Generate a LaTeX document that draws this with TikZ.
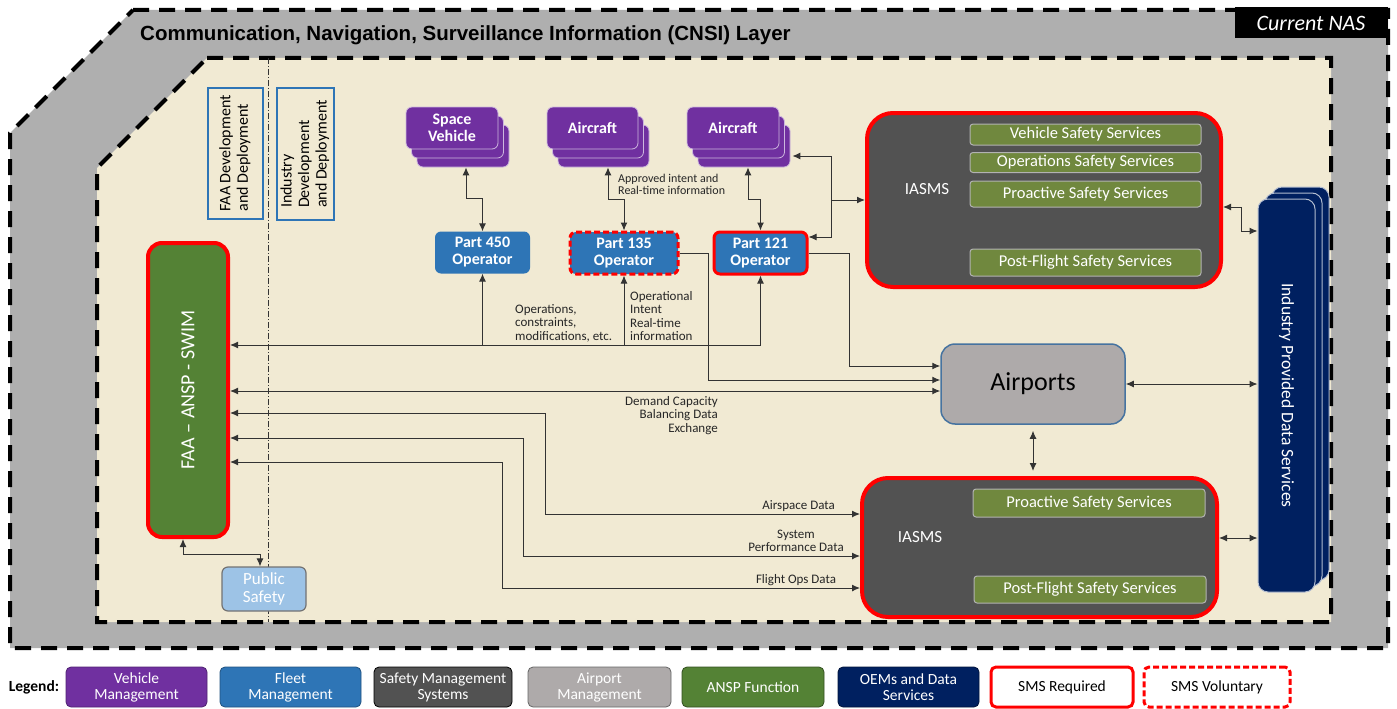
\documentclass[tikz,border=0pt]{standalone}
\usepackage{fontspec}
\setmainfont{Carlito}
\newfontfamily\arialfont{Liberation Sans}
\usetikzlibrary{arrows.meta, shadows}

\definecolor{vehpurple}{RGB}{112,48,160}
\definecolor{fleetblue}{RGB}{46,117,182}
\definecolor{smsgray}{RGB}{82,82,82}
\definecolor{airgray}{RGB}{174,170,170}
\definecolor{airborder}{RGB}{70,115,160}
\definecolor{ansgreen}{RGB}{84,130,53}
\definecolor{oemnavy}{RGB}{0,32,96}
\definecolor{svcgreen}{RGB}{112,136,62}
\definecolor{nasbeige}{RGB}{241,234,211}
\definecolor{cnsigray}{RGB}{175,175,175}
\definecolor{smsred}{RGB}{255,0,0}
\definecolor{pubblue}{RGB}{157,195,230}

\newcommand{\rotup}[1]{\rotatebox{90}{\begin{tabular}{@{}l@{}}#1\end{tabular}}}

\tikzstyle{layer} = [fill=cnsigray, draw=black, line width=4pt, dash pattern=on 16pt off 10pt]
\tikzstyle{nas} = [fill=nasbeige, draw=black, line width=4pt, dash pattern=on 16pt off 10pt]
\tikzstyle{divider} = [draw=black!80, line width=0.8pt, dash pattern=on 6pt off 2pt on 1pt off 2pt]
\tikzstyle{title} = [anchor=west, inner sep=0pt, font=\arialfont\bfseries\fontsize{20.5}{20.5}\selectfont]
\tikzstyle{tag} = [fill=black, text=white, minimum width=153pt, minimum height=31pt, inner sep=0pt, font=\itshape\fontsize{22}{22}\selectfont]
\tikzstyle{devbox} = [rectangle, draw=fleetblue, line width=2.5pt, inner sep=0pt, font=\fontsize{16}{17.5}\selectfont]
\tikzstyle{vehicle} = [rectangle, rounded corners=6pt, fill=vehpurple, draw=white!65!vehpurple, line width=0.8pt, text=white, minimum width=92pt, minimum height=42pt, inner sep=0pt, align=center, font=\bfseries\fontsize{16}{17}\selectfont, copy shadow={shadow xshift=11pt, shadow yshift=-18pt}, copy shadow={shadow xshift=5.5pt, shadow yshift=-9pt}]
\tikzstyle{operator} = [rectangle, rounded corners=6pt, fill=fleetblue, text=white, minimum height=42pt, inner sep=0pt, align=center, font=\bfseries\fontsize{16}{17}\selectfont]
\tikzstyle{smsreq} = [draw=smsred, line width=3pt]
\tikzstyle{smsvol} = [draw=smsred, line width=3pt, dash pattern=on 6pt off 3pt]
\tikzstyle{iasms} = [rectangle, rounded corners=26pt, fill=smsgray, draw=smsred, line width=4pt, inner sep=0pt]
\tikzstyle{service} = [rectangle, rounded corners=3pt, fill=svcgreen, draw=gray!60, line width=1pt, text=white, minimum width=231pt, inner sep=0pt, font=\fontsize{16.5}{16.5}\selectfont]
\tikzstyle{iasmslbl} = [text=white, inner sep=0pt, font=\fontsize{17}{17}\selectfont]
\tikzstyle{airport} = [rectangle, rounded corners=14pt, fill=airgray, draw=airborder, line width=1.5pt, minimum width=184pt, minimum height=80pt, inner sep=0pt, font=\fontsize{26}{26}\selectfont]
\tikzstyle{datasvc} = [rectangle, rounded corners=10pt, fill=oemnavy, draw=white!70!oemnavy, line width=1pt, text=white, minimum width=57pt, minimum height=393pt, inner sep=0pt, font=\fontsize{17.5}{17.5}\selectfont, copy shadow={shadow xshift=14pt, shadow yshift=12pt}, copy shadow={shadow xshift=7pt, shadow yshift=6pt}]
\tikzstyle{ansp} = [rectangle, rounded corners=14pt, fill=ansgreen, draw=smsred, line width=4pt, text=white, minimum width=80pt, minimum height=294pt, inner sep=0pt, font=\fontsize{20}{20}\selectfont]
\tikzstyle{public} = [rectangle, rounded corners=6pt, fill=pubblue, draw=black!55, line width=1.2pt, text=white, minimum width=84pt, minimum height=44pt, inner sep=0pt, align=center, font=\fontsize{17}{18}\selectfont]
\tikzstyle{lbl} = [inner sep=0pt, text=black!85, font=\fontsize{13}{13.5}\selectfont]
\tikzstyle{key} = [rectangle, rounded corners=5pt, minimum height=40pt, inner sep=0pt, align=center, line width=0.8pt, font=\fontsize{15.5}{16}\selectfont]
\tikzstyle{arrow} = [draw=black!80, line width=1pt, ->, >={Latex[length=8pt,width=7pt]}]
\tikzstyle{twoway} = [draw=black!80, line width=1pt, <->, >={Latex[length=8pt,width=7pt]}]

\begin{document}
\begin{tikzpicture}[x=1pt, y=-1pt]
\useasboundingbox (0,0) rectangle (1397,709);
\draw [layer] (133,10) -- (1388,10) -- (1388,648) -- (10,648) -- (10,133) -- cycle;
\draw [nas] (207,58) -- (1331,58) -- (1331,622) -- (97,622) -- (97,168) -- cycle;
\draw [divider] (268,58) -- (268,622);

\node [title] at (140,35) (cnsi) {Communication, Navigation, Surveillance Information (CNSI) Layer};
\node [tag] at (1311,23) (current) {Current NAS};

\node [devbox, minimum width=55pt, minimum height=131pt] at (235.5,153.5) (faadev) {\rotup{FAA Development\\and Deployment}};
\node [devbox, minimum width=57pt, minimum height=132pt] at (305.5,154) (inddev) {\rotup{Industry\\Development\\and Deployment}};

\node [vehicle] at (452,128) (sv) {Space\\Vehicle};
\node [vehicle, minimum width=91pt] at (592.5,128) (ac1) {Aircraft};
\node [vehicle] at (733,128) (ac2) {Aircraft};

\node [operator, minimum width=95pt] at (482.5,252.5) (p450) {Part 450\\Operator};
\node [operator, smsvol, minimum width=108pt] at (624,253) (p135) {Part 135\\Operator};
\node [operator, smsreq, minimum width=93pt] at (760.5,253) (p121) {Part 121\\Operator};

\node [iasms, minimum width=354pt, minimum height=174pt] at (1044,200) (iasmsA) {};
\node [iasmslbl] at (927,189) (iasmsAlbl) {IASMS};
\node [service, minimum height=21pt] at (1085.5,134.5) (vss) {Vehicle Safety Services};
\node [service, minimum height=20pt] at (1085.5,162.5) (oss) {Operations Safety Services};
\node [service, minimum height=26pt] at (1085.5,194) (pssA) {Proactive Safety Services};
\node [service, minimum height=27pt] at (1085.5,262.5) (pfsA) {Post-Flight Safety Services};

\node [datasvc] at (1286.5,395.5) (ids) {\rotatebox{-90}{Industry Provided Data Services}};
\node [airport] at (1033,384) (air) {Airports};

\node [iasms, minimum width=355pt, minimum height=139pt] at (1039.5,547.5) (iasmsB) {};
\node [iasmslbl] at (920,537) (iasmsBlbl) {IASMS};
\node [service, minimum width=232pt, minimum height=28pt] at (1089,503) (pssB) {Proactive Safety Services};
\node [service, minimum width=232pt, minimum height=27pt] at (1090,589.5) (pfsB) {Post-Flight Safety Services};

\node [ansp] at (188,390) (swim) {\rotatebox{90}{FAA – ANSP - SWIM}};
\node [public] at (264,589) (pub) {Public\\Safety};

\coordinate (opsline) at (0,345);
\coordinate (fork) at (831,200);

\draw [twoway] ([shift={(14,18)}]sv.south) -- ++(0,31) -| (p450.north);
\draw [twoway] ([shift={(15.5,18)}]ac1.south) -- ++(0,32) -| (p135.north);
\draw [twoway] ([shift={(15,18)}]ac2.south) -- ++(0,32) -| (p121.north);
\node [lbl, anchor=west, align=left, font=\fontsize{12}{12}\selectfont] at (618,184) (approved) {Approved intent and\\Real-time information};

\draw [twoway] (swim.east |- opsline) -| (p121.south);
\draw [arrow] (p450.south |- opsline) -- (p450.south);
\draw [arrow] (p135.south |- opsline) -- (p135.south);
\node [lbl, anchor=west, align=left] at (515,323) (opslbl) {Operations,\\constraints,\\modifications, etc.};
\node [lbl, anchor=west, align=left] at (630,316) (intentlbl) {Operational\\Intent\\Real-time\\information};

\draw [arrow] (fork) -- (iasmsA.west);
\draw [arrow] (fork) |- ([shift={(13,28)}]ac2.east);
\draw [arrow] (fork) |- ([shift={(0,-16)}]p121.east);

\draw [arrow] (p135.east) -- ++(29,0) |- ([shift={(0,-4)}]air.west);
\draw [arrow] (p121.east) -- ++(41,0) |- ([shift={(0,-18)}]air.west);
\draw [twoway] (swim.east |- 0,391) -- ([shift={(0,7)}]air.west);
\node [lbl, anchor=north east, align=right] at (718,396) (dcblbl) {Demand Capacity\\Balancing Data\\Exchange};

\draw [twoway] (air.east) -- (air.east -| ids.west);
\draw [twoway, shorten <=6pt, shorten >=5pt] (air.south) -- (air.south |- iasmsB.north);
\draw [twoway] ([shift={(0,7)}]iasmsA.east) -- ++(18,0) |- (ids.west |- 0,231);
\draw [twoway] (iasmsB.east |- 0,538) -- (ids.west |- 0,538);

\draw [twoway] (swim.east |- 0,413) -| (545,514) -- (iasmsB.west |- 0,514);
\draw [twoway] (swim.east |- 0,438) -| (523,556) -- (iasmsB.west |- 0,556);
\draw [twoway] (swim.east |- 0,462) -| (502,588) -- (iasmsB.west |- 0,588);
\node [lbl, anchor=east] at (835,506) (airspacelbl) {Airspace Data};
\node [lbl, align=center] at (796,541) (perflbl) {System\\Performance Data};
\node [lbl] at (796,580) (flightlbl) {Flight Ops Data};

\draw [twoway] ([shift={(-5,0)}]swim.south) -- ++(0,15) -| ([shift={(-4,0)}]pub.north);

\node [inner sep=0pt, font=\bfseries\fontsize{15.5}{15.5}\selectfont] at (34,687) (legend) {Legend:};
\node [key, fill=vehpurple, draw=vehpurple!70!black, text=white, minimum width=141pt] at (136.5,687) (kveh) {Vehicle\\Management};
\node [key, fill=fleetblue, draw=fleetblue!70!black, text=white, minimum width=141pt] at (290.5,687) (kfleet) {Fleet\\Management};
\node [key, fill=smsgray, draw=black, text=white, minimum width=138pt] at (443,687) (ksms) {Safety Management\\Systems};
\node [key, fill=airgray, draw=black!60, text=white, minimum width=143pt] at (599.5,687) (kair) {Airport\\Management};
\node [key, fill=ansgreen, draw=ansgreen!60!black, text=white, minimum width=142pt] at (753,687) (kansp) {ANSP Function};
\node [key, fill=oemnavy, draw=oemnavy!60!black, text=white, minimum width=141pt] at (908.5,687) (koem) {OEMs and Data\\Services};
\node [key, fill=white, smsreq, minimum width=142pt] at (1062,687) (kreq) {SMS Required};
\node [key, fill=white, smsvol, minimum width=146pt] at (1217,687) (kvol) {SMS Voluntary};
\end{tikzpicture}
\end{document}
